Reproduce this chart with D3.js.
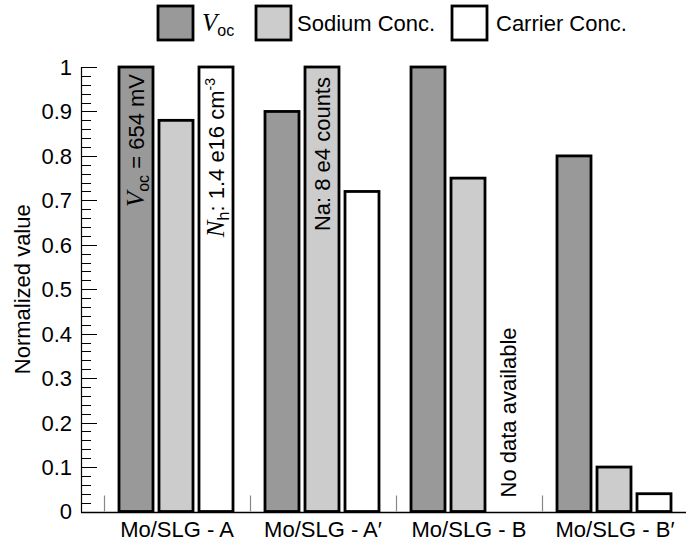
<!DOCTYPE html>
<html>
<head>
<meta charset="utf-8">
<script src="https://cdn.jsdelivr.net/npm/d3@7"></script>
<style>
  body { margin: 0; background: #fff; }
  svg { display: block; font-family: "Liberation Sans", Arial, Helvetica, sans-serif; }
</style>
</head>
<body>
<svg id="chart" width="686" height="545"></svg>
<script>
// data
const categories = ["Mo/SLG - A", "Mo/SLG - A\u2032", "Mo/SLG - B", "Mo/SLG - B\u2032"];
const seriesKeys = ["voc", "sodium", "carrier"];
const vocValues = [1.0, 0.90, 1.0, 0.80];
const sodiumValues = [0.88, 1.0, 0.75, 0.10];
const carrierValues = [1.0, 0.72, null, 0.04];
const yTicks = [0, 0.1, 0.2, 0.3, 0.4, 0.5, 0.6, 0.7, 0.8, 0.9, 1];
const yMinorTicks = d3.range(0, 50).map(i => i * 0.02);

const fills = { voc: "#999999", sodium: "#cccccc", carrier: "#ffffff" };

const svg = d3.select("#chart");
const width = 686, height = 545;
const margin = { top: 67, right: 0, bottom: 33, left: 81 };

const x = d3.scaleBand()
	.domain(categories)
	.range([104, 688])
	.paddingInner(0)
	.paddingOuter(0);

const xInner = d3.scaleBand()
	.domain(seriesKeys)
	.range([15, 129])
	.paddingInner(0.15)
	.paddingOuter(0);

const y = d3.scaleLinear()
	.domain([0, 1])
	.range([height - margin.bottom - 0.5, margin.top]);

const rows = categories.map((c, i) => ({
	cat: c,
	voc: vocValues[i],
	sodium: sodiumValues[i],
	carrier: carrierValues[i],
}));

// y axis (ticks point inward)
const yAxis = svg.append("g")
	.attr("transform", "translate(" + margin.left + ",0)");

yAxis.selectAll("line.minor")
	.data(yMinorTicks)
	.join("line")
	.attr("class", "minor")
	.attr("x1", 0).attr("x2", 10)
	.attr("y1", d => Math.round(y(d)) + 0.5)
	.attr("y2", d => Math.round(y(d)) + 0.5)
	.attr("stroke", "#000").attr("stroke-width", 1);

yAxis.selectAll("line.major")
	.data(yTicks)
	.join("line")
	.attr("class", "major")
	.attr("x1", 0).attr("x2", 16)
	.attr("y1", d => Math.round(y(d)) + 0.5)
	.attr("y2", d => Math.round(y(d)) + 0.5)
	.attr("stroke", "#000").attr("stroke-width", 1);

yAxis.append("line")
	.attr("x1", 0.5).attr("x2", 0.5)
	.attr("y1", y(1)).attr("y2", y(0) + 1)
	.attr("stroke", "#000").attr("stroke-width", 1.2);

yAxis.selectAll("text")
	.data(yTicks)
	.join("text")
	.attr("x", -9)
	.attr("y", d => y(d))
	.attr("dy", "0.36em")
	.attr("text-anchor", "end")
	.attr("font-size", 22)
	.text(d => d3.format("")(d));

svg.append("text")
	.attr("transform", "translate(30," + (y(0.5)) + ") rotate(-90)")
	.attr("text-anchor", "middle")
	.attr("font-size", 22)
	.text("Normalized value");

// bars
const groups = svg.append("g")
	.selectAll("g")
	.data(rows)
	.join("g")
	.attr("transform", d => "translate(" + x(d.cat) + ",0)");

groups.selectAll("rect")
	.data(d => seriesKeys.filter(k => d[k] != null).map(k => ({ key: k, value: d[k] })))
	.join("rect")
	.attr("x", d => xInner(d.key))
	.attr("y", d => y(d.value))
	.attr("width", xInner.bandwidth())
	.attr("height", d => y(0) - y(d.value))
	.attr("fill", d => fills[d.key])
	.attr("stroke", "#000")
	.attr("stroke-width", 2.8);

// x axis
svg.append("line")
	.attr("x1", margin.left).attr("x2", width)
	.attr("y1", Math.round(y(0)) + 0.5).attr("y2", Math.round(y(0)) + 0.5)
	.attr("stroke", "#000").attr("stroke-width", 1.5);

svg.append("g")
	.selectAll("line")
	.data(categories)
	.join("line")
	.attr("x1", d => x(d) + 0.5).attr("x2", d => x(d) + 0.5)
	.attr("y1", y(0)).attr("y2", y(0) - 16)
	.attr("stroke", "#888").attr("stroke-width", 1.2);

svg.append("g")
	.selectAll("text")
	.data(categories)
	.join("text")
	.attr("x", d => x(d) + x.bandwidth() / 2)
	.attr("y", y(0) + 25)
	.attr("text-anchor", "middle")
	.attr("font-size", 22)
	.text(d => d);

// in-bar annotations
function vlabel(cat, key, yTop, build) {
	const cx = x(cat) + xInner(key) + xInner.bandwidth() / 2;
	const t = svg.append("text")
		.attr("transform", "translate(" + (cx + 8) + "," + yTop + ") rotate(-90)")
		.attr("text-anchor", "end")
		.attr("font-size", 22);
	build(t);
	return t;
}

vlabel(categories[0], "voc", y(1) + 7, t => {
	t.append("tspan").attr("font-family", "Liberation Serif, Times New Roman, serif")
		.attr("font-style", "italic").attr("font-size", 25).text("V");
	t.append("tspan").attr("font-size", 16).attr("dy", 5).text("oc");
	t.append("tspan").attr("dy", -5).text(" = 654 mV");
});

vlabel(categories[0], "carrier", y(1) + 11, t => {
	t.append("tspan").attr("font-family", "Liberation Serif, Times New Roman, serif")
		.attr("font-style", "italic").attr("font-size", 25).text("N");
	t.append("tspan").attr("font-size", 16).attr("dy", 5).text("h");
	t.append("tspan").attr("dy", -5).text(": 1.4 e16 cm");
	t.append("tspan").attr("font-size", 14).attr("dy", -9).text("-3");
});

vlabel(categories[1], "sodium", y(1) + 10, t => {
	t.text("Na: 8 e4 counts");
});

vlabel(categories[2], "carrier", y(0) - 14, t => {
	t.attr("text-anchor", "start").text("No data available");
});

// legend
const legendItems = [
	{ key: "voc", x: 158, tx: 202 },
	{ key: "sodium", x: 256, tx: 297 },
	{ key: "carrier", x: 452, tx: 496 },
];
const legend = svg.append("g");
legend.selectAll("rect")
	.data(legendItems)
	.join("rect")
	.attr("x", d => d.x).attr("y", 6)
	.attr("width", 35).attr("height", 34)
	.attr("fill", d => fills[d.key])
	.attr("stroke", "#000").attr("stroke-width", 2.8);

const lt0 = legend.append("text").attr("x", legendItems[0].tx).attr("y", 31).attr("font-size", 22);
lt0.append("tspan").attr("font-family", "Liberation Serif, Times New Roman, serif")
	.attr("font-style", "italic").attr("font-size", 25).text("V");
lt0.append("tspan").attr("font-size", 16).attr("dy", 5).text("oc");

legend.append("text").attr("x", legendItems[1].tx).attr("y", 31).attr("font-size", 22).text("Sodium Conc.");
legend.append("text").attr("x", legendItems[2].tx).attr("y", 31).attr("font-size", 22).text("Carrier Conc.");
</script>
</body>
</html>
